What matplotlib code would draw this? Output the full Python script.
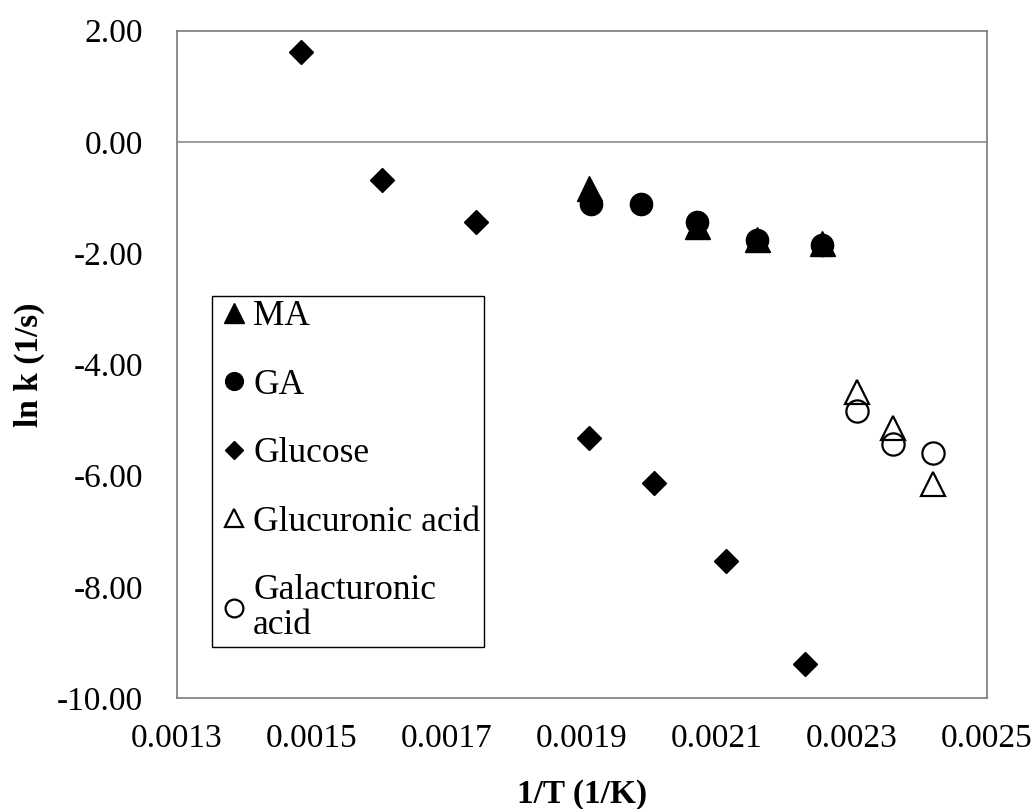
import matplotlib
matplotlib.use("Agg")
import matplotlib.pyplot as plt

plt.rcParams['font.family'] = ['Liberation Serif', 'DejaVu Serif']

# Data
glucose_x = [0.001484, 0.001604, 0.001743, 0.001911, 0.002007, 0.002113, 0.002230]
glucose_y = [1.61, -0.68, -1.44, -5.32, -6.13, -7.54, -9.39]

ma_x = [0.001911, 0.002071, 0.002160, 0.002255]
ma_y = [-0.83, -1.52, -1.75, -1.81]

ga_x = [0.001913, 0.001987, 0.002071, 0.002160, 0.002255]
ga_y = [-1.11, -1.11, -1.44, -1.77, -1.86]

glucuronic_x = [0.002307, 0.002361, 0.002420]
glucuronic_y = [-4.50, -5.15, -6.16]

galacturonic_x = [0.002307, 0.002361, 0.002420]
galacturonic_y = [-4.83, -5.43, -5.60]

x_ticks = [0.0013, 0.0015, 0.0017, 0.0019, 0.0021, 0.0023, 0.0025]
y_ticks = [2, 0, -2, -4, -6, -8, -10]

fig = plt.figure(figsize=(10.36, 8.09), dpi=100)
ax = fig.add_axes([0.1704, 0.1372, 0.9527 - 0.1704, 0.962 - 0.1372])

ax.plot(ma_x, ma_y, linestyle='none', marker='^', ms=18, color='black', label='MA', zorder=3)
ax.plot(ga_x, ga_y, linestyle='none', marker='o', ms=16, color='black', label='GA', zorder=3)
ax.plot(glucose_x, glucose_y, linestyle='none', marker='D', ms=12, color='black', label='Glucose', zorder=3)
ax.plot(glucuronic_x, glucuronic_y, linestyle='none', marker='^', ms=17, mfc='none', mec='black',
        mew=1.6, label='Glucuronic acid', zorder=3)
ax.plot(galacturonic_x, galacturonic_y, linestyle='none', marker='o', ms=16, mfc='none', mec='black',
        mew=1.6, label='Galacturonic\nacid', zorder=3)

ax.axhline(0, color='#8c8c8c', lw=1.2, zorder=1)

ax.set_xlim(0.0013, 0.0025)
ax.set_ylim(-10, 2)
ax.set_xticks(x_ticks)
ax.set_xticklabels([f"{v:.4f}" for v in x_ticks])
ax.set_yticks(y_ticks)
ax.set_yticklabels([f"{v:.2f}" for v in y_ticks])
ax.tick_params(axis='both', length=0, labelsize=24)
ax.tick_params(axis='y', pad=24)
ax.tick_params(axis='x', pad=18)

for s in ax.spines.values():
    s.set_color('#7a7a7a')
    s.set_linewidth(1.2)

ax.set_xlabel('1/T (1/K)', fontsize=24, fontweight='bold', labelpad=18)
ax.set_ylabel('ln k (1/s)', fontsize=24, fontweight='bold', labelpad=9)

leg = ax.legend(loc='upper left', bbox_to_anchor=(0.2043, 0.6341), bbox_transform=fig.transFigure,
                prop={'size': 25.5}, frameon=True, fancybox=False, edgecolor='black', framealpha=1,
                markerscale=0.8, handlelength=1.0, handletextpad=0.05, labelspacing=1.0,
                borderpad=0.12, borderaxespad=0)
leg.get_frame().set_linewidth(1.0)
for t in leg.get_texts():
    t.set_linespacing(1.1)

fig.savefig('out.png', dpi=100)
